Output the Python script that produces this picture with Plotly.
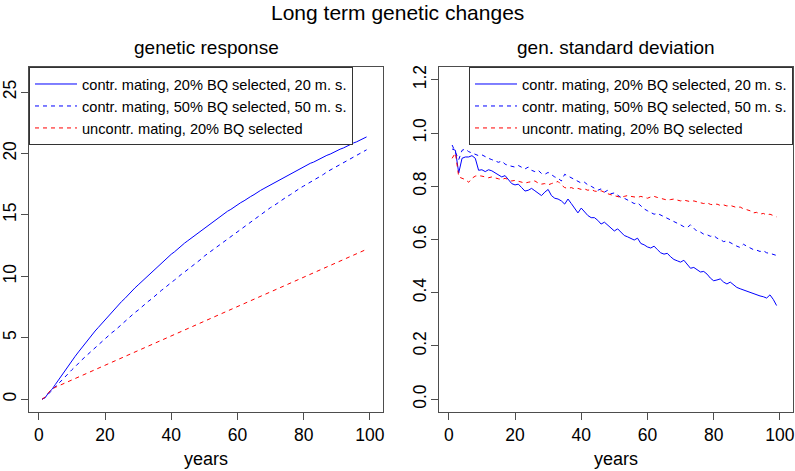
import plotly.graph_objects as go

# years of selection
years = list(range(1, 100))

# genetic response (left panel)
resp_contr20 = [
    0.00, 0.15, 0.55, 0.80, 1.20, 1.60, 2.00, 2.40, 2.80, 3.15,
    3.50, 3.85, 4.20, 4.55, 4.90, 5.20, 5.55, 5.85, 6.15, 6.50,
    6.80, 7.10, 7.35, 7.65, 7.95, 8.20, 8.50, 8.75, 9.05, 9.30,
    9.55, 9.85, 10.10, 10.35, 10.60, 10.85, 11.10, 11.35, 11.55, 11.80,
    12.00, 12.25, 12.45, 12.70, 12.90, 13.10, 13.30, 13.50, 13.75, 13.95,
    14.15, 14.35, 14.55, 14.70, 14.90, 15.10, 15.30, 15.45, 15.65, 15.80,
    16.00, 16.15, 16.35, 16.50, 16.65, 16.85, 17.00, 17.15, 17.30, 17.45,
    17.60, 17.75, 17.90, 18.05, 18.20, 18.35, 18.50, 18.60, 18.75, 18.90,
    19.05, 19.20, 19.30, 19.45, 19.60, 19.70, 19.85, 19.95, 20.10, 20.20,
    20.35, 20.45, 20.60, 20.70, 20.85, 20.95, 21.10, 21.20, 21.35,
]
resp_contr50 = [
    0.00, 0.15, 0.45, 0.75, 1.00, 1.30, 1.55, 1.85, 2.10, 2.40,
    2.65, 2.95, 3.20, 3.45, 3.70, 3.95, 4.15, 4.40, 4.65, 4.90,
    5.15, 5.40, 5.60, 5.85, 6.10, 6.35, 6.55, 6.80, 7.05, 7.25,
    7.50, 7.70, 7.95, 8.15, 8.40, 8.60, 8.85, 9.05, 9.30, 9.50,
    9.70, 9.95, 10.15, 10.35, 10.55, 10.80, 11.00, 11.20, 11.40, 11.65,
    11.85, 12.05, 12.25, 12.45, 12.65, 12.85, 13.05, 13.25, 13.45, 13.65,
    13.85, 14.05, 14.25, 14.45, 14.65, 14.85, 15.00, 15.20, 15.40, 15.60,
    15.75, 15.95, 16.15, 16.30, 16.50, 16.65, 16.85, 17.00, 17.20, 17.35,
    17.50, 17.70, 17.85, 18.00, 18.15, 18.30, 18.50, 18.65, 18.80, 18.95,
    19.10, 19.25, 19.40, 19.55, 19.70, 19.85, 20.00, 20.15, 20.30,
]
resp_uncontr20 = [
    0.00, 0.20, 0.55, 0.85, 0.97, 1.09, 1.21, 1.33, 1.45, 1.57,
    1.69, 1.81, 1.93, 2.05, 2.17, 2.28, 2.40, 2.52, 2.64, 2.76,
    2.88, 3.00, 3.12, 3.24, 3.36, 3.48, 3.60, 3.72, 3.84, 3.96,
    4.08, 4.20, 4.32, 4.44, 4.55, 4.67, 4.79, 4.91, 5.03, 5.15,
    5.27, 5.39, 5.51, 5.63, 5.75, 5.87, 5.99, 6.11, 6.23, 6.35,
    6.47, 6.59, 6.70, 6.82, 6.94, 7.06, 7.18, 7.30, 7.42, 7.54,
    7.66, 7.78, 7.90, 8.02, 8.14, 8.26, 8.38, 8.50, 8.62, 8.74,
    8.85, 8.97, 9.09, 9.21, 9.33, 9.45, 9.57, 9.69, 9.81, 9.93,
    10.05, 10.17, 10.29, 10.41, 10.53, 10.65, 10.77, 10.89, 11.00, 11.12,
    11.24, 11.36, 11.48, 11.60, 11.72, 11.84, 11.96, 12.08, 12.20,
]

# genetic standard deviation (right panel)
sd_contr20 = [
    0.940, 0.935, 0.850, 0.905, 0.910, 0.910, 0.915, 0.905, 0.860, 0.862,
    0.855, 0.862, 0.858, 0.850, 0.840, 0.835, 0.840, 0.825, 0.810, 0.805,
    0.808, 0.795, 0.782, 0.785, 0.792, 0.783, 0.775, 0.765, 0.778, 0.788,
    0.765, 0.755, 0.752, 0.745, 0.733, 0.752, 0.735, 0.715, 0.700, 0.718,
    0.705, 0.690, 0.682, 0.682, 0.672, 0.658, 0.665, 0.655, 0.645, 0.632,
    0.640, 0.628, 0.615, 0.610, 0.605, 0.598, 0.605, 0.585, 0.580, 0.572,
    0.568, 0.575, 0.562, 0.550, 0.545, 0.548, 0.535, 0.525, 0.520, 0.515,
    0.522, 0.508, 0.492, 0.495, 0.488, 0.478, 0.480, 0.470, 0.455, 0.445,
    0.448, 0.452, 0.440, 0.433, 0.440, 0.430, 0.420, 0.415, 0.410, 0.405,
    0.400, 0.395, 0.390, 0.388, 0.385, 0.380, 0.392, 0.375, 0.352,
]
sd_contr50 = [
    0.955, 0.930, 0.900, 0.935, 0.940, 0.930, 0.925, 0.920, 0.915, 0.918,
    0.910, 0.905, 0.900, 0.895, 0.890, 0.895, 0.883, 0.878, 0.875, 0.872,
    0.878, 0.870, 0.865, 0.872, 0.860, 0.855, 0.860, 0.848, 0.845, 0.852,
    0.842, 0.835, 0.830, 0.820, 0.845, 0.838, 0.830, 0.825, 0.818, 0.812,
    0.815, 0.805, 0.800, 0.792, 0.785, 0.790, 0.778, 0.785, 0.772, 0.775,
    0.765, 0.758, 0.755, 0.748, 0.742, 0.735, 0.738, 0.725, 0.715, 0.708,
    0.700, 0.695, 0.698, 0.692, 0.685, 0.680, 0.675, 0.670, 0.662, 0.655,
    0.648, 0.645, 0.655, 0.642, 0.630, 0.628, 0.620, 0.618, 0.612, 0.615,
    0.605, 0.600, 0.592, 0.595, 0.588, 0.580, 0.575, 0.570, 0.582, 0.575,
    0.568, 0.562, 0.560, 0.555, 0.558, 0.550, 0.548, 0.545, 0.540,
]
sd_uncontr20 = [
    0.905, 0.925, 0.835, 0.830, 0.825, 0.815, 0.830, 0.838, 0.840, 0.838,
    0.835, 0.832, 0.835, 0.830, 0.828, 0.825, 0.830, 0.825, 0.820, 0.822,
    0.818, 0.815, 0.812, 0.815, 0.818, 0.820, 0.812, 0.808, 0.810, 0.805,
    0.810, 0.815, 0.818, 0.805, 0.795, 0.792, 0.795, 0.790, 0.792, 0.788,
    0.790, 0.785, 0.788, 0.782, 0.780, 0.783, 0.776, 0.772, 0.768, 0.765,
    0.760, 0.758, 0.762, 0.765, 0.762, 0.760, 0.758, 0.762, 0.758, 0.755,
    0.760, 0.762, 0.758, 0.755, 0.752, 0.748, 0.750, 0.752, 0.748, 0.745,
    0.748, 0.745, 0.742, 0.745, 0.740, 0.738, 0.735, 0.738, 0.732, 0.730,
    0.733, 0.728, 0.730, 0.726, 0.728, 0.724, 0.720, 0.722, 0.715, 0.712,
    0.708, 0.700, 0.702, 0.695, 0.698, 0.692, 0.695, 0.690, 0.685,
]

series_names = [
    "contr. mating, 20% BQ selected, 20 m. s.",
    "contr. mating, 50% BQ selected, 50 m. s.",
    "uncontr. mating, 20% BQ selected",
]
x_ticks = [0, 20, 40, 60, 80, 100]
resp_ticks = [0, 5, 10, 15, 20, 25]
sd_ticks = [0.0, 0.2, 0.4, 0.6, 0.8, 1.0, 1.2]

W, H = 795, 471
FONT = "Liberation Sans, Arial, Helvetica, sans-serif"
BOX = "#4d4d4d"

styles = [("#0000ff", "solid"), ("#0000ff", "4px,4px"), ("#ff0000", "4px,4px")]

fig = go.Figure()

for name, ys, (col, dash) in zip(series_names, [resp_contr20, resp_contr50, resp_uncontr20], styles):
    fig.add_trace(go.Scatter(x=years, y=ys, mode="lines", name=name,
                             line=dict(color=col, width=1, dash=dash),
                             xaxis="x", yaxis="y", legend="legend"))

for name, ys, (col, dash) in zip(series_names, [sd_contr20, sd_contr50, sd_uncontr20], styles):
    fig.add_trace(go.Scatter(x=years, y=ys, mode="lines", name=name,
                             line=dict(color=col, width=1, dash=dash),
                             xaxis="x2", yaxis="y2", legend="legend2"))

# plot boxes in pixels (R style panels)
left_box = (29, 383)
right_box = (439, 793)
top_px, bottom_px = 67, 412
ydom = [1 - bottom_px / H, 1 - top_px / H]

axis_common = dict(showgrid=False, zeroline=False, showline=True, mirror=True,
                   linecolor=BOX, linewidth=1, ticks="outside", ticklen=7,
                   tickcolor=BOX, tickwidth=1, automargin=False,
                   tickfont=dict(family=FONT, size=17.5, color="black"))

legend_common = dict(yanchor="top", y=ydom[1], bgcolor="white",
                     bordercolor="#333333", borderwidth=1, itemwidth=42,
                     font=dict(family=FONT, size=14.6, color="black"),
                     tracegroupgap=0)

fig.update_layout(
    template="none",
    width=W, height=H,
    margin=dict(l=0, r=0, t=0, b=0),
    paper_bgcolor="white", plot_bgcolor="white",
    font=dict(family=FONT, color="black"),
    xaxis=dict(domain=[left_box[0] / W, left_box[1] / W], range=[-2.96, 103.96],
               tickvals=x_ticks, anchor="y", **axis_common),
    yaxis=dict(domain=ydom, range=[-1.04, 27.04], tickvals=resp_ticks,
               tickangle=-90, ticklabelstandoff=-2, anchor="x", **axis_common),
    xaxis2=dict(domain=[right_box[0] / W, right_box[1] / W], range=[-2.96, 103.96],
                tickvals=x_ticks, anchor="y2", **axis_common),
    yaxis2=dict(domain=ydom, range=[-0.048, 1.248], tickvals=sd_ticks,
                tickformat=".1f", tickangle=-90, ticklabelstandoff=-2,
                anchor="x2", **axis_common),
    legend=dict(x=left_box[0] / W, xanchor="left", **legend_common),
    legend2=dict(x=right_box[1] / W, xanchor="right", **legend_common),
    showlegend=True,
)

annos = [
    dict(text="Long term genetic changes", x=0.5, y=1 - 13 / H, size=21),
    dict(text="genetic response", x=sum(left_box) / 2 / W, y=1 - 48 / H, size=19),
    dict(text="gen. standard deviation", x=sum(right_box) / 2 / W, y=1 - 48 / H, size=19),
    dict(text="years", x=sum(left_box) / 2 / W, y=1 - 459 / H, size=18),
    dict(text="years", x=sum(right_box) / 2 / W, y=1 - 459 / H, size=18),
]
for a in annos:
    fig.add_annotation(text=a["text"], x=a["x"], y=a["y"], xref="paper", yref="paper",
                       xanchor="center", yanchor="middle", showarrow=False,
                       font=dict(family=FONT, size=a["size"], color="black"))

# drop the browser's default body margin so the figure fills the window
fig.write_html("out.html", config={"displayModeBar": False},
               post_script="document.body.style.margin='0';")
